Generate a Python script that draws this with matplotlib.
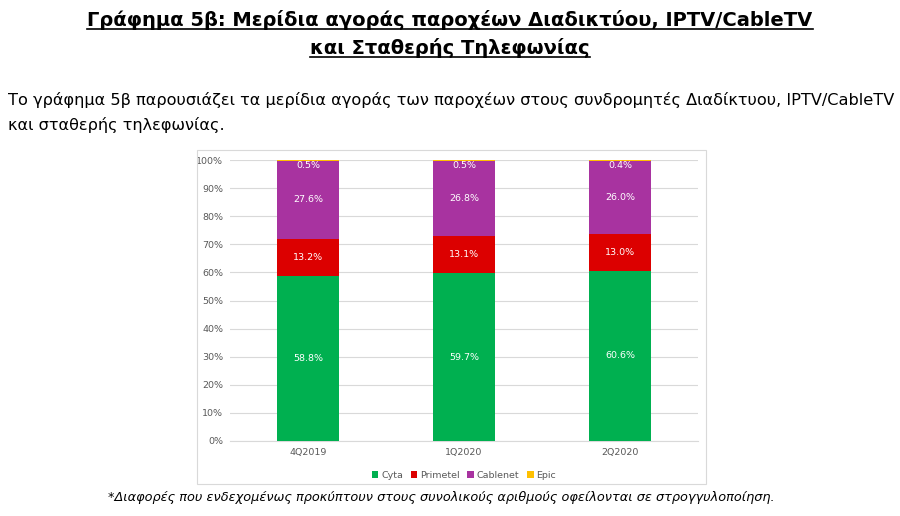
import matplotlib
matplotlib.use("Agg")
import matplotlib.pyplot as plt
from matplotlib.patches import Rectangle
import numpy as np

categories = ["4Q2019", "1Q2020", "2Q2020"]
series_names = ["Cyta", "Primetel", "Cablenet", "Epic"]
cyta = [58.8, 59.7, 60.6]
primetel = [13.2, 13.1, 13.0]
cablenet = [27.6, 26.8, 26.0]
epic = [0.5, 0.5, 0.4]
colors = ["#00B050", "#DC0000", "#A833A0", "#FFC000"]

fig = plt.figure(figsize=(9, 5.16), dpi=100)
fig.patch.set_facecolor("white")

fig.add_artist(Rectangle((197/900, 1-484/516), 509/900, 334/516, transform=fig.transFigure,
                         fill=False, edgecolor="#D9D9D9", lw=0.8))

ax = fig.add_axes([230/900, 1-441/516, 468/900, 281/516])
x = np.arange(len(categories))
vals = [cyta, primetel, cablenet, epic]
bottom = np.zeros(len(categories))
for name, v, c in zip(series_names, vals, colors):
    v = np.array(v, float)
    ax.bar(x, v, 0.4, bottom=bottom, color=c, label=name, zorder=3)
    bottom = bottom + v
b = np.zeros(len(categories))
for i, v in enumerate(vals):
    v = np.array(v, float)
    for j in range(len(categories)):
        y = b[j] + v[j] / 2 if i < 3 else 98.2
        ax.text(x[j], y, f"{v[j]:.1f}%", ha="center", va="center", color="white",
                fontsize=6.8, zorder=4)
    b += v
ax.set_ylim(0, 100)
ax.set_xlim(-0.5, 2.5)
ax.set_yticks(np.arange(0, 101, 10))
ax.set_yticklabels([f"{t}%" for t in range(0, 101, 10)])
ax.set_xticks(x)
ax.set_xticklabels(categories)
ax.tick_params(length=0, labelsize=6.8, labelcolor="#595959", pad=5)
ax.grid(axis="y", color="#D9D9D9", lw=0.8, zorder=0)
for s in ax.spines.values():
    s.set_visible(False)
ax.spines["bottom"].set_visible(True)
ax.spines["bottom"].set_color("#D9D9D9")
leg = ax.legend(loc="upper center", bbox_to_anchor=(0.5, -0.075), ncol=4, frameon=False,
                fontsize=6.8, handlelength=0.7, handleheight=0.7, handletextpad=0.3,
                columnspacing=0.8)
for t in leg.get_texts():
    t.set_color("#595959")

t1 = fig.text(0.5, 1-20/516, "Γράφημα 5β: Μερίδια αγοράς παροχέων Διαδικτύου, IPTV/CableTV",
              ha="center", va="center", fontsize=14, fontweight="bold")
t2 = fig.text(0.5, 1-48/516, "και Σταθερής Τηλεφωνίας",
              ha="center", va="center", fontsize=14, fontweight="bold")
fig.canvas.draw()
r = fig.canvas.get_renderer()
for t in (t1, t2):
    bb = t.get_window_extent(r)
    yl = (bb.y0 + 1) / 516
    fig.add_artist(plt.Line2D([bb.x0/900, bb.x1/900], [yl, yl], transform=fig.transFigure,
                              color="black", lw=1.2))

fig.text(8/900, 1-100/516,
         "Το γράφημα 5β παρουσιάζει τα μερίδια αγοράς των παροχέων στους συνδρομητές Διαδίκτυου, IPTV/CableTV",
         ha="left", va="center", fontsize=11.6)
fig.text(8/900, 1-125/516, "και σταθερής τηλεφωνίας.", ha="left", va="center", fontsize=11.6)
fig.text(0.49, 1-497/516,
         "*Διαφορές που ενδεχομένως προκύπτουν στους συνολικούς αριθμούς οφείλονται σε στρογγυλοποίηση.",
         ha="center", va="center", fontsize=9.3, style="italic")

fig.savefig("out.png", dpi=100, facecolor="white")
